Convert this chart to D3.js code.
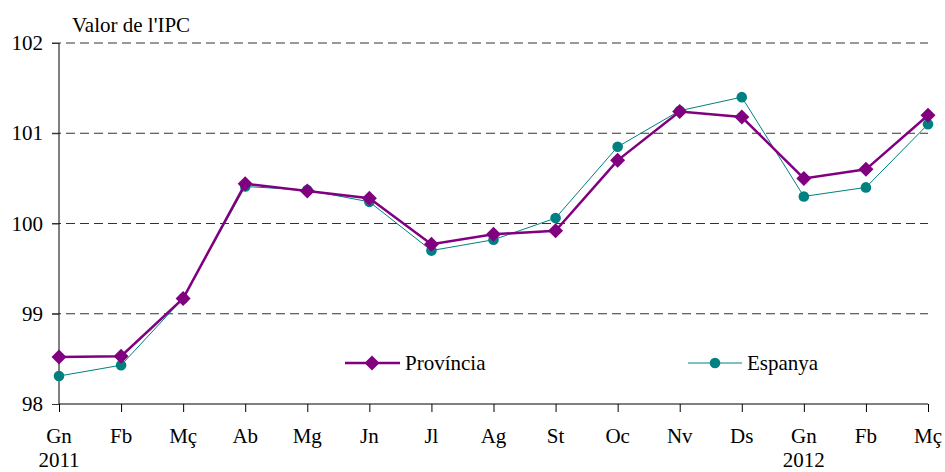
<!DOCTYPE html>
<html><head><meta charset="utf-8">
<script src="https://cdn.jsdelivr.net/npm/d3@7"></script>
<style>body{margin:0;background:#fff}svg{display:block}text{font-family:"Liberation Serif","Times New Roman",Times,serif}</style>
</head><body><svg id="c" width="945" height="472"></svg>
<script>
const months = ["Gn","Fb","Mç","Ab","Mg","Jn","Jl","Ag","St","Oc","Nv","Ds","Gn","Fb","Mç"];
const years = ["2011","","","","","","","","","","","","2012","",""];
const provincia = [98.52,98.53,99.17,100.44,100.36,100.28,99.77,99.88,99.92,100.70,101.24,101.18,100.50,100.60,101.20];
const espanya = [98.31,98.43,99.17,100.41,100.37,100.24,99.70,99.82,100.06,100.85,101.25,101.40,100.30,100.40,101.10];
const yTicks = [98,99,100,101,102];

const FS = 21;
const svg = d3.select("#c");
const x = d3.scalePoint().domain(d3.range(months.length)).range([59,928]);
const y = d3.scaleLinear().domain([98,102]).range([404,43]);

// gridlines
svg.append("g").selectAll("line").data(yTicks.filter(d=>d>98)).join("line")
  .attr("x1",52).attr("x2",928).attr("y1",d=>y(d)).attr("y2",d=>y(d))
  .attr("stroke","#333").attr("stroke-width",1).attr("stroke-dasharray","9,5");

// y axis
const ya = svg.append("g").attr("transform","translate(59,0)")
  .call(d3.axisLeft(y).tickValues(yTicks).tickSize(7).tickPadding(9).tickFormat(d3.format("d")));
ya.select(".domain").attr("stroke","#000").attr("d","M0,43V404");
ya.selectAll(".tick line").attr("stroke","#333");
ya.selectAll("text").attr("font-size",FS).attr("fill","#000").attr("font-family",null);

// x axis
const xa = svg.append("g").attr("transform","translate(0,404)")
  .call(d3.axisBottom(x).tickSize(8).tickPadding(0).tickFormat(""));
xa.select(".domain").attr("stroke","#000").attr("d","M59,0H928");
xa.selectAll(".tick line").attr("stroke","#000");
const xl = svg.append("g");
xl.selectAll("text.m").data(months).join("text").attr("class","m")
  .attr("x",(d,i)=>x(i)).attr("y",443).attr("text-anchor","middle").attr("font-size",FS).text(d=>d);
xl.selectAll("text.yr").data(years).join("text").attr("class","yr")
  .attr("x",(d,i)=>x(i)).attr("y",467).attr("text-anchor","middle").attr("font-size",FS).text(d=>d);

svg.append("text").attr("x",72).attr("y",32).attr("font-size",FS).text("Valor de l'IPC");

const line = d3.line().x((d,i)=>x(i)).y(d=>y(d));
const teal = "#008080", purple = "#800080";
const diamond = "M0,-7.5L7.5,0L0,7.5L-7.5,0Z";

// Espanya
svg.append("path").datum(espanya).attr("d",line).attr("fill","none").attr("stroke",teal).attr("stroke-width",1);
svg.append("g").selectAll("circle").data(espanya).join("circle")
  .attr("cx",(d,i)=>x(i)).attr("cy",d=>y(d)).attr("r",5.3).attr("fill",teal);
// Província
svg.append("path").datum(provincia).attr("d",line).attr("fill","none").attr("stroke",purple).attr("stroke-width",2.5);
svg.append("g").selectAll("path").data(provincia).join("path")
  .attr("d",diamond).attr("transform",(d,i)=>`translate(${x(i)},${y(d)})`).attr("fill",purple);

// legend
const lg = svg.append("g");
lg.append("line").attr("x1",345).attr("x2",400).attr("y1",363).attr("y2",363).attr("stroke",purple).attr("stroke-width",2.5);
lg.append("path").attr("d",diamond).attr("transform","translate(372,363)").attr("fill",purple);
lg.append("text").attr("x",405).attr("y",370).attr("font-size",FS).text("Província");
lg.append("line").attr("x1",688).attr("x2",742).attr("y1",363).attr("y2",363).attr("stroke",teal).attr("stroke-width",1);
lg.append("circle").attr("cx",715).attr("cy",363).attr("r",5.3).attr("fill",teal);
lg.append("text").attr("x",747).attr("y",370).attr("font-size",FS).text("Espanya");
</script></body></html>
